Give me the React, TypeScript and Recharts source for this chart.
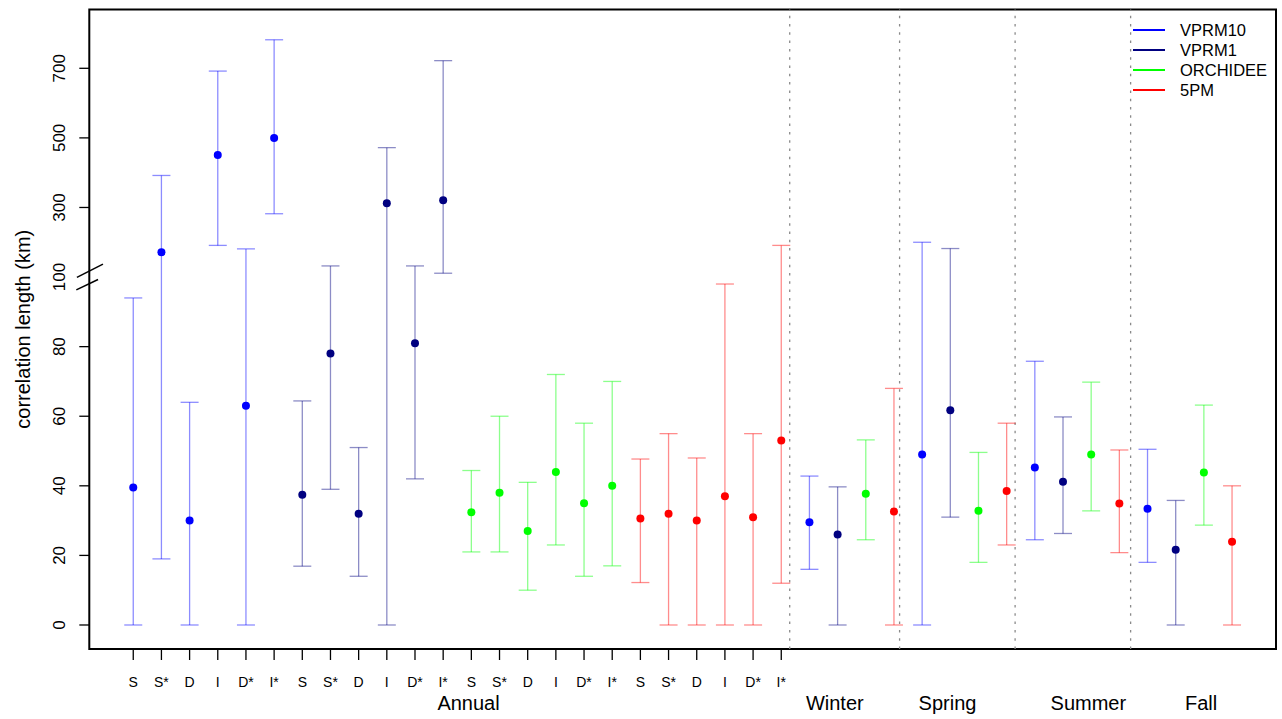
import React from 'react';
import {
  ComposedChart,
  Scatter,
  XAxis,
  YAxis,
  ErrorBar,
  ReferenceLine,
  ReferenceArea,
  ReferenceDot,
  Legend,
} from 'recharts';

// ---------- data ----------
const annualLabels = ['S', 'S*', 'D', 'I', 'D*', 'I*'];
const groupNames = ['Annual', 'Winter', 'Spring', 'Summer', 'Fall'];
const groupLabelPos = [11.9, 24.9, 28.9, 33.9, 37.9];
const dividerPos = [23.3, 27.2, 31.3, 35.4];
const yTickLabels = [0, 20, 40, 60, 80, 100, 300, 500, 700];

// VPRM10
const vprm10Annual = [39.5, 171, 30, 451, 63, 500];
const vprm10AnnualLo = [0, 19, 0, 191, 0, 282];
const vprm10AnnualHi = [94, 392, 64, 692, 181, 782];
const vprm10Season = [29.5, 49, 45.3, 33.4];
const vprm10SeasonLo = [16, 0, 24.5, 18];
const vprm10SeasonHi = [42.8, 200, 75.8, 50.5];

// VPRM1
const vprm1Annual = [37.4, 78, 32, 312, 81, 321];
const vprm1AnnualLo = [16.9, 39, 14, 0, 42, 111];
const vprm1AnnualHi = [64.4, 132, 51, 472, 132, 722];
const vprm1Season = [26, 61.7, 41.2, 21.6];
const vprm1SeasonLo = [0, 31, 26.3, 0];
const vprm1SeasonHi = [39.7, 182, 59.8, 35.8];

// ORCHIDEE
const orchAnnual = [32.4, 38, 27, 44, 35, 40];
const orchAnnualLo = [21, 21, 10, 23, 14, 17];
const orchAnnualHi = [44.4, 60, 41, 72, 58, 70];
const orchSeason = [37.7, 32.8, 49, 43.8];
const orchSeasonLo = [24.5, 18, 32.8, 28.7];
const orchSeasonHi = [53.2, 49.6, 69.8, 63.2];

// 5PM
const pmAnnual = [30.6, 32, 30, 37, 31, 53];
const pmAnnualLo = [12.2, 0, 0, 0, 0, 12];
const pmAnnualHi = [47.7, 55, 48, 98, 55, 191];
const pmSeason = [32.6, 38.5, 34.9, 23.9];
const pmSeasonLo = [0, 23, 20.8, 0];
const pmSeasonHi = [68, 58, 50.3, 40];

const models = [
  { name: 'VPRM10', color: '#0000FF', annual: vprm10Annual, annualLo: vprm10AnnualLo, annualHi: vprm10AnnualHi, season: vprm10Season, seasonLo: vprm10SeasonLo, seasonHi: vprm10SeasonHi },
  { name: 'VPRM1', color: '#000080', annual: vprm1Annual, annualLo: vprm1AnnualLo, annualHi: vprm1AnnualHi, season: vprm1Season, seasonLo: vprm1SeasonLo, seasonHi: vprm1SeasonHi },
  { name: 'ORCHIDEE', color: '#00FF00', annual: orchAnnual, annualLo: orchAnnualLo, annualHi: orchAnnualHi, season: orchSeason, seasonLo: orchSeasonLo, seasonHi: orchSeasonHi },
  { name: '5PM', color: '#FF0000', annual: pmAnnual, annualLo: pmAnnualLo, annualHi: pmAnnualHi, season: pmSeason, seasonLo: pmSeasonLo, seasonHi: pmSeasonHi },
];

// broken axis: above 100 compressed by 10
const BREAK = 100;
const SQUEEZE = 10;
const toDisplay = (v: number) => (v <= BREAK ? v : BREAK + (v - BREAK) / SQUEEZE);
const yTickDisplay = yTickLabels.map(toDisplay);

const buildSeries = (m: typeof models[number], mi: number) => {
  const pts: { x: number; y: number; err: [number, number] }[] = [];
  m.annual.forEach((v, j) => {
    const d = toDisplay(v);
    pts.push({ x: mi * annualLabels.length + j, y: d, err: [d - toDisplay(m.annualLo[j]), toDisplay(m.annualHi[j]) - d] });
  });
  m.season.forEach((v, s) => {
    const d = toDisplay(v);
    pts.push({ x: models.length * annualLabels.length + s * models.length + mi, y: d, err: [d - toDisplay(m.seasonLo[s]), toDisplay(m.seasonHi[s]) - d] });
  });
  return pts;
};

const FONT = '"Liberation Sans", Arial, Helvetica, sans-serif';
const X_DOMAIN: [number, number] = [-1.56, 40.56];
const Y_DOMAIN: [number, number] = [-6.9, 176.9];
const annualTicks = models.flatMap((_, mi) => annualLabels.map((__, j) => mi * annualLabels.length + j));

const YTick = (props: any) => {
  const { x, y, payload } = props;
  const idx = yTickDisplay.indexOf(payload.value);
  const label = idx >= 0 ? String(yTickLabels[idx]) : '';
  const axisX = x + 24.3;
  return (
    <g>
      {label !== '100' && <line x1={axisX - 10} x2={axisX} y1={y} y2={y} stroke="#000" strokeWidth={1.3} />}
      <text x={x} y={y} transform={`rotate(-90, ${x}, ${y})`} textAnchor="middle" fontSize={17} fill="#000" fontFamily={FONT}>
        {label}
      </text>
    </g>
  );
};

const YTitle = (props: any) => {
  const vb = props.viewBox || { x: 0, y: 9.5, width: 89.3, height: 639.5 };
  const cx = vb.x + 30;
  const cy = vb.y + vb.height / 2;
  return (
    <text x={cx} y={cy} transform={`rotate(-90, ${cx}, ${cy})`} textAnchor="middle" fontSize={20} fill="#000" fontFamily={FONT}>
      correlation length (km)
    </text>
  );
};

const LegendContent = () => (
  <div style={{ fontFamily: FONT }}>
    {models.map((m) => (
      <div key={m.name} style={{ display: 'flex', alignItems: 'center', height: 20 }}>
        <svg width={47} height={20} style={{ display: 'block' }}>
          <line x1={0} x2={32} y1={10} y2={10} stroke={m.color} strokeWidth={2} />
        </svg>
        <span style={{ fontSize: 16.5, color: '#000', lineHeight: '20px' }}>{m.name}</span>
      </div>
    ))}
  </div>
);

export default function App() {
  return (
    <div style={{ position: 'absolute', left: 0, top: 0, width: 1282, height: 719, background: '#fff', fontFamily: FONT }}>
      <ComposedChart width={1282} height={719} margin={{ top: 9.5, right: 6, bottom: 0, left: 0 }}>
        <XAxis
          type="number"
          dataKey="x"
          domain={X_DOMAIN}
          allowDataOverflow
          ticks={annualTicks}
          tickFormatter={(v: number) => annualLabels[v % annualLabels.length]}
          interval={0}
          axisLine={false}
          tickLine={{ stroke: '#000', strokeWidth: 1.3 }}
          tickSize={11}
          tickMargin={16.8}
          height={70}
          tick={{ fill: '#000', fontSize: 14, fontFamily: FONT }}
        />
        <YAxis
          type="number"
          dataKey="y"
          domain={Y_DOMAIN}
          allowDataOverflow
          ticks={yTickDisplay}
          interval={0}
          width={89.3}
          axisLine={false}
          tickLine={false}
          tickSize={10}
          tickMargin={14.3}
          tick={<YTick />}
          label={<YTitle />}
        />
        {dividerPos.map((p) => (
          <ReferenceLine key={p} x={p} stroke="#8a8a8a" strokeWidth={1.3} strokeDasharray="2.5 5.8" />
        ))}
        {models.map((m, mi) => (
          <Scatter
            key={m.name}
            name={m.name}
            data={buildSeries(m, mi)}
            fill={m.color}
            isAnimationActive={false}
            shape={(p: any) => <circle cx={p.cx} cy={p.cy} r={4} fill={m.color} />}
          >
            <ErrorBar dataKey="err" direction="y" width={9} stroke={m.color} strokeOpacity={0.45} strokeWidth={1.3} />
          </Scatter>
        ))}
        <ReferenceArea
          x1={X_DOMAIN[0]}
          x2={X_DOMAIN[1]}
          y1={Y_DOMAIN[0]}
          y2={Y_DOMAIN[1]}
          fill="none"
          fillOpacity={0}
          stroke="#000"
          strokeWidth={2}
          ifOverflow="visible"
        />
        <ReferenceLine segment={[{ x: -2.0, y: 99.9 }, { x: -1.075, y: 103.7 }]} stroke="#000" strokeWidth={1.5} ifOverflow="visible" />
        <ReferenceLine segment={[{ x: -2.02, y: 96.3 }, { x: -1.25, y: 99.3 }]} stroke="#000" strokeWidth={1.5} ifOverflow="visible" />
        {groupNames.map((g, i) => (
          <ReferenceDot
            key={g}
            x={groupLabelPos[i]}
            y={Y_DOMAIN[0]}
            ifOverflow="visible"
            shape={(p: any) => (
              <text x={p.cx} y={p.cy + 61.2} textAnchor="middle" fontSize={20} fill="#000" fontFamily={FONT}>
                {g}
              </text>
            )}
          />
        ))}
        <Legend
          layout="vertical"
          align="center"
          verticalAlign="middle"
          content={<LegendContent />}
          wrapperStyle={{ left: 1133, top: 20, width: 150, height: 80 }}
        />
      </ComposedChart>
    </div>
  );
}
